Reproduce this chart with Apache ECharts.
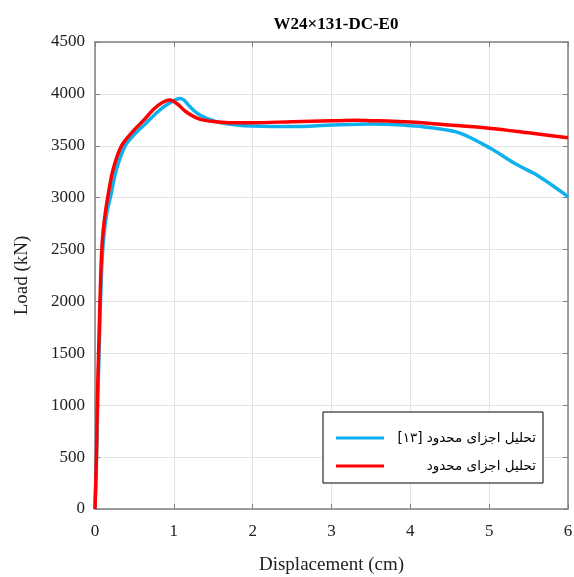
<!DOCTYPE html>
<html><head><meta charset="utf-8">
<script src="https://cdn.jsdelivr.net/npm/echarts@6/dist/echarts.min.js"></script>
<style>html,body{margin:0;padding:0;background:#fff}#c{width:574px;height:577px}</style>
</head><body><div id="c"></div>
<script>
const titleText = 'W24×131-DC-E0';
const xTicks = [0, 1, 2, 3, 4, 5, 6];
const yTicks = [0, 500, 1000, 1500, 2000, 2500, 3000, 3500, 4000, 4500];
const refName = '\u200Fتحلیل اجزای محدود [۱۳]\u200F';
const feName = '\u200Fتحلیل اجزای محدود\u200F';
// Reference [13] (blue)
const refDisp = [0, 0.02, 0.035, 0.055, 0.07, 0.09, 0.115, 0.15, 0.2, 0.27, 0.38, 0.5, 0.65, 0.8, 0.9, 1.0, 1.07, 1.13, 1.2, 1.33, 1.54, 1.8, 2.0, 2.5, 3.0, 3.5, 3.9, 4.3, 4.63, 5.01, 5.36, 5.6, 6.0];
const refLoad = [0, 500, 1050, 1600, 2000, 2400, 2650, 2850, 3020, 3266, 3497, 3610, 3720, 3830, 3890, 3935, 3956, 3940, 3880, 3796, 3731, 3700, 3690, 3685, 3700, 3710, 3700, 3670, 3622, 3478, 3314, 3220, 3010];
// Finite element (red)
const feDisp = [0, 0.02, 0.03, 0.05, 0.063, 0.08, 0.1, 0.13, 0.165, 0.228, 0.334, 0.5, 0.63, 0.74, 0.85, 0.95, 1.05, 1.15, 1.3, 1.5, 1.7, 2.0, 2.5, 3.0, 3.3, 3.5, 4.0, 4.5, 5.0, 5.5, 6.0];
const feLoad = [0, 570, 1050, 1630, 2000, 2400, 2650, 2850, 3020, 3266, 3497, 3655, 3755, 3850, 3915, 3940, 3900, 3830, 3765, 3733, 3722, 3722, 3732, 3740, 3745, 3742, 3728, 3700, 3670, 3625, 3577];

const serif = '"Liberation Serif", "Times New Roman", serif';
const chart = echarts.init(document.getElementById('c'), null, {renderer: 'canvas'});
const gridColor = '#e3e3e3';
const axisColor = '#808080';
chart.setOption({
  animation: false,
  title: {text: titleText, left: 331, textAlign: 'center', top: 11,
    textStyle: {fontFamily: serif, fontWeight: 'bold', fontSize: 17, color: '#000'}},
  grid: {left: 95, right: 6, top: 42, bottom: 68, show: false, containLabel: false, outerBoundsMode: 'none'},
  legend: {
    orient: 'vertical', left: 323, top: 412, width: 220,
    padding: [19, 7, 10, 13], itemGap: 14,
    backgroundColor: '#fff', borderColor: '#000', borderWidth: 1,
    icon: 'rect', itemWidth: 48, itemHeight: 3,
    data: [refName, feName],
    formatter: n => '{a|' + n + '}',
    textStyle: {rich: {a: {width: 147, align: 'right', fontFamily: '"DejaVu Sans", sans-serif', fontSize: 13.5, color: '#000', lineHeight: 16}}}
  },
  xAxis: [{
    type: 'value', min: 0, max: 6, interval: 1,
    name: 'Displacement (cm)', nameLocation: 'middle', nameGap: 47,
    nameTextStyle: {fontFamily: serif, fontSize: 19, color: '#222'},
    axisLine: {show: true, lineStyle: {color: axisColor, width: 1.5}},
    axisTick: {show: true, inside: true, length: 5, lineStyle: {color: axisColor}},
    axisLabel: {fontFamily: serif, fontSize: 17, color: '#222', margin: 14, formatter: v => xTicks.includes(v) ? String(v) : ''},
    splitLine: {show: true, lineStyle: {color: gridColor, width: 1}}
  }, {
    type: 'value', min: 0, max: 6, interval: 1, position: 'top',
    axisLine: {show: true, onZero: false, lineStyle: {color: axisColor, width: 1.5}},
    axisTick: {show: true, inside: true, length: 5, lineStyle: {color: axisColor}},
    axisLabel: {show: false}, splitLine: {show: false}
  }],
  yAxis: [{
    type: 'value', min: 0, max: 4500, interval: 500,
    name: 'Load (kN)', nameLocation: 'middle', nameGap: 63, nameRotate: 90,
    nameTextStyle: {fontFamily: serif, fontSize: 19, color: '#222'},
    axisLine: {show: true, lineStyle: {color: axisColor, width: 1.5}},
    axisTick: {show: true, inside: true, length: 5, lineStyle: {color: axisColor}},
    axisLabel: {fontFamily: serif, fontSize: 17, color: '#222', margin: 10, formatter: v => yTicks.includes(v) ? String(v) : ''},
    splitLine: {show: true, lineStyle: {color: gridColor, width: 1}}
  }, {
    type: 'value', min: 0, max: 4500, interval: 500, position: 'right',
    axisLine: {show: true, onZero: false, lineStyle: {color: axisColor, width: 1.5}},
    axisTick: {show: true, inside: true, length: 5, lineStyle: {color: axisColor}},
    axisLabel: {show: false}, splitLine: {show: false}
  }],
  series: [{
    name: refName, type: 'line', data: refDisp.map((d, i) => [d, refLoad[i]]),
    showSymbol: false, smooth: 0.3, lineStyle: {color: '#0fb0ee', width: 3.5}, itemStyle: {color: '#0fb0ee'}
  }, {
    name: feName, type: 'line', data: feDisp.map((d, i) => [d, feLoad[i]]),
    showSymbol: false, smooth: 0.3, lineStyle: {color: '#ff0000', width: 3.5}, itemStyle: {color: '#ff0000'}
  }]
});
</script></body></html>
